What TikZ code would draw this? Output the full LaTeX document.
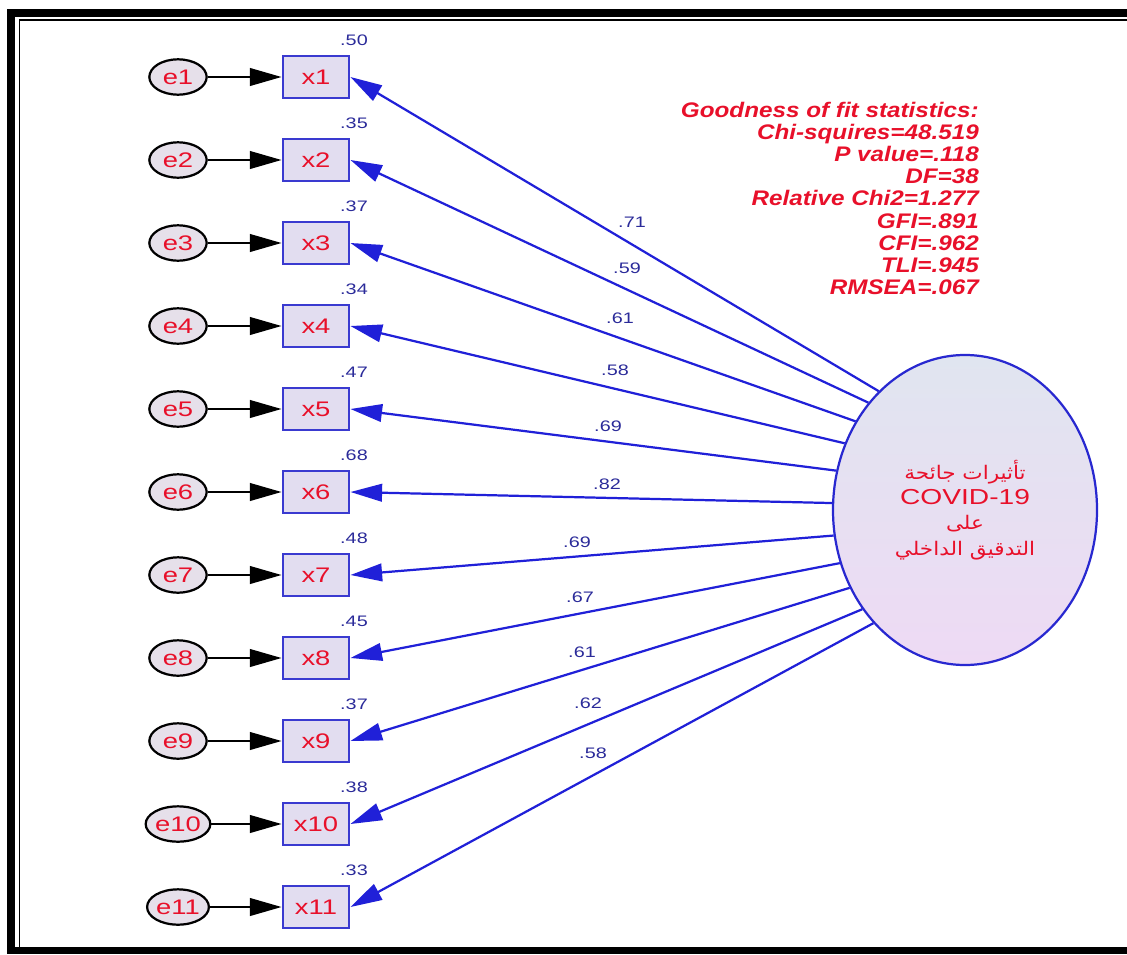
\documentclass[tikz,border=0pt]{standalone}
\usepackage{fontspec}
\usetikzlibrary{arrows.meta,shapes.geometric}
\TeXXeTstate=1
\newfontfamily\labfont[FakeStretch=1.3]{Liberation Sans}
\newfontfamily\statfont[FakeStretch=1.15]{Liberation Sans}
\newfontfamily\arabicfont[Script=Arabic,FakeStretch=1.15]{DejaVu Sans}
\definecolor{redtxt}{HTML}{E8102A}
\definecolor{labblue}{HTML}{2B2B9A}
\definecolor{lineblue}{HTML}{2020D8}
\definecolor{boxblue}{HTML}{3A3AD0}
\definecolor{boxfill}{HTML}{E2DDF0}
\definecolor{efill}{HTML}{E6E0EA}
\definecolor{ellblue}{HTML}{2828D0}
\definecolor{ellT}{HTML}{E0E5F0}
\definecolor{ellB}{HTML}{EEDAF4}
\begin{document}
\begin{tikzpicture}[x=0.03cm,y=-0.03cm,
  errnode/.style={ellipse, draw=black, line width=1.9pt, fill=efill, minimum width=1.72cm, minimum height=1.06cm, inner sep=0pt, text=redtxt, font=\labfont\fontsize{18}{20}\selectfont},
  obsnode/.style={rectangle, draw=boxblue, line width=1.9pt, fill=boxfill, minimum width=2.0cm, minimum height=1.28cm, inner sep=0pt, text=redtxt, font=\labfont\fontsize{18}{20}\selectfont},
  blk/.style={draw=black, line width=1.9pt, -{Triangle[length=27pt,width=15pt]}},
  blu/.style={draw=lineblue, line width=1.9pt, -{Triangle[length=27pt,width=15pt]}},
  lab/.style={text=labblue, font=\labfont\fontsize{13}{14}\selectfont, inner sep=0pt},
  stat/.style={anchor=base east, text=redtxt, font=\statfont\bfseries\itshape\fontsize{18}{20}\selectfont, inner sep=0pt}]
\useasboundingbox (0,0) rectangle (1127,954);
% frame
\fill[black] (7,9) rectangle (1127,954);
\fill[white] (15,17.5) rectangle (1127,947);
\draw[line width=1.7pt] (19.5,947) -- (19.5,20) -- (1127,20);
% latent factor
\node[ellipse, draw=ellblue, line width=1.9pt, minimum width=7.92cm, minimum height=9.3cm,
  top color=ellT, bottom color=ellB, align=center, text=redtxt, inner sep=0pt,
  font=\labfont\fontsize{18.5}{21.5}\selectfont] (F) at (965,510)
  {{\arabicfont\fontsize{16}{21.5}\selectfont\beginR تأثيرات جائحة\endR}\\
   COVID-19\\
   {\arabicfont\fontsize{16}{21.5}\selectfont\beginR على\endR}\\
   {\arabicfont\fontsize{16}{21.5}\selectfont\beginR التدقيق الداخلي\endR}};
% statistics
\foreach \k/\yy/\t in {1/110/Goodness of fit statistics:, 2/132/Chi-squires=48.519, 3/154/P value=.118,
  4/176/DF=38, 5/198/Relative Chi2=1.277, 6/221/GFI=.891, 7/243/CFI=.962, 8/265/TLI=.945, 9/287/RMSEA=.067}
  {\node[stat] (s\k) at (979,\yy+7) {\t};}
% indicators
\foreach \i/\v/\a/\lx/\ly/\l in {
  1/.50/126/632/222/.71, 2/.35/132/627/268/.59, 3/.37/141/620/318/.61,
  4/.34/151/615/370/.58, 5/.47/163/608/426/.69, 6/.68/177/607/484/.82,
  7/.48/191/577/542/.69, 8/.45/203/580/597/.67, 9/.37/214/582/652/.61,
  10/.38/224/588/703/.62, 11/.33/231/593/753/.58}{
  \pgfmathsetmacro\yy{77+83*(\i-1)}
  \node[errnode] (e\i) at (178,\yy) {e\i};
  \node[obsnode] (x\i) at (316,\yy) {x\i};
  \node[lab] (v\i) at (354,\yy-37) {\v};
  \node[lab] (l\i) at (\lx,\ly) {\l};
  \draw[blk] (e\i) -- (x\i);
  \draw[blu] (F.\a) -- (x\i.east);
}
\end{tikzpicture}
\end{document}
